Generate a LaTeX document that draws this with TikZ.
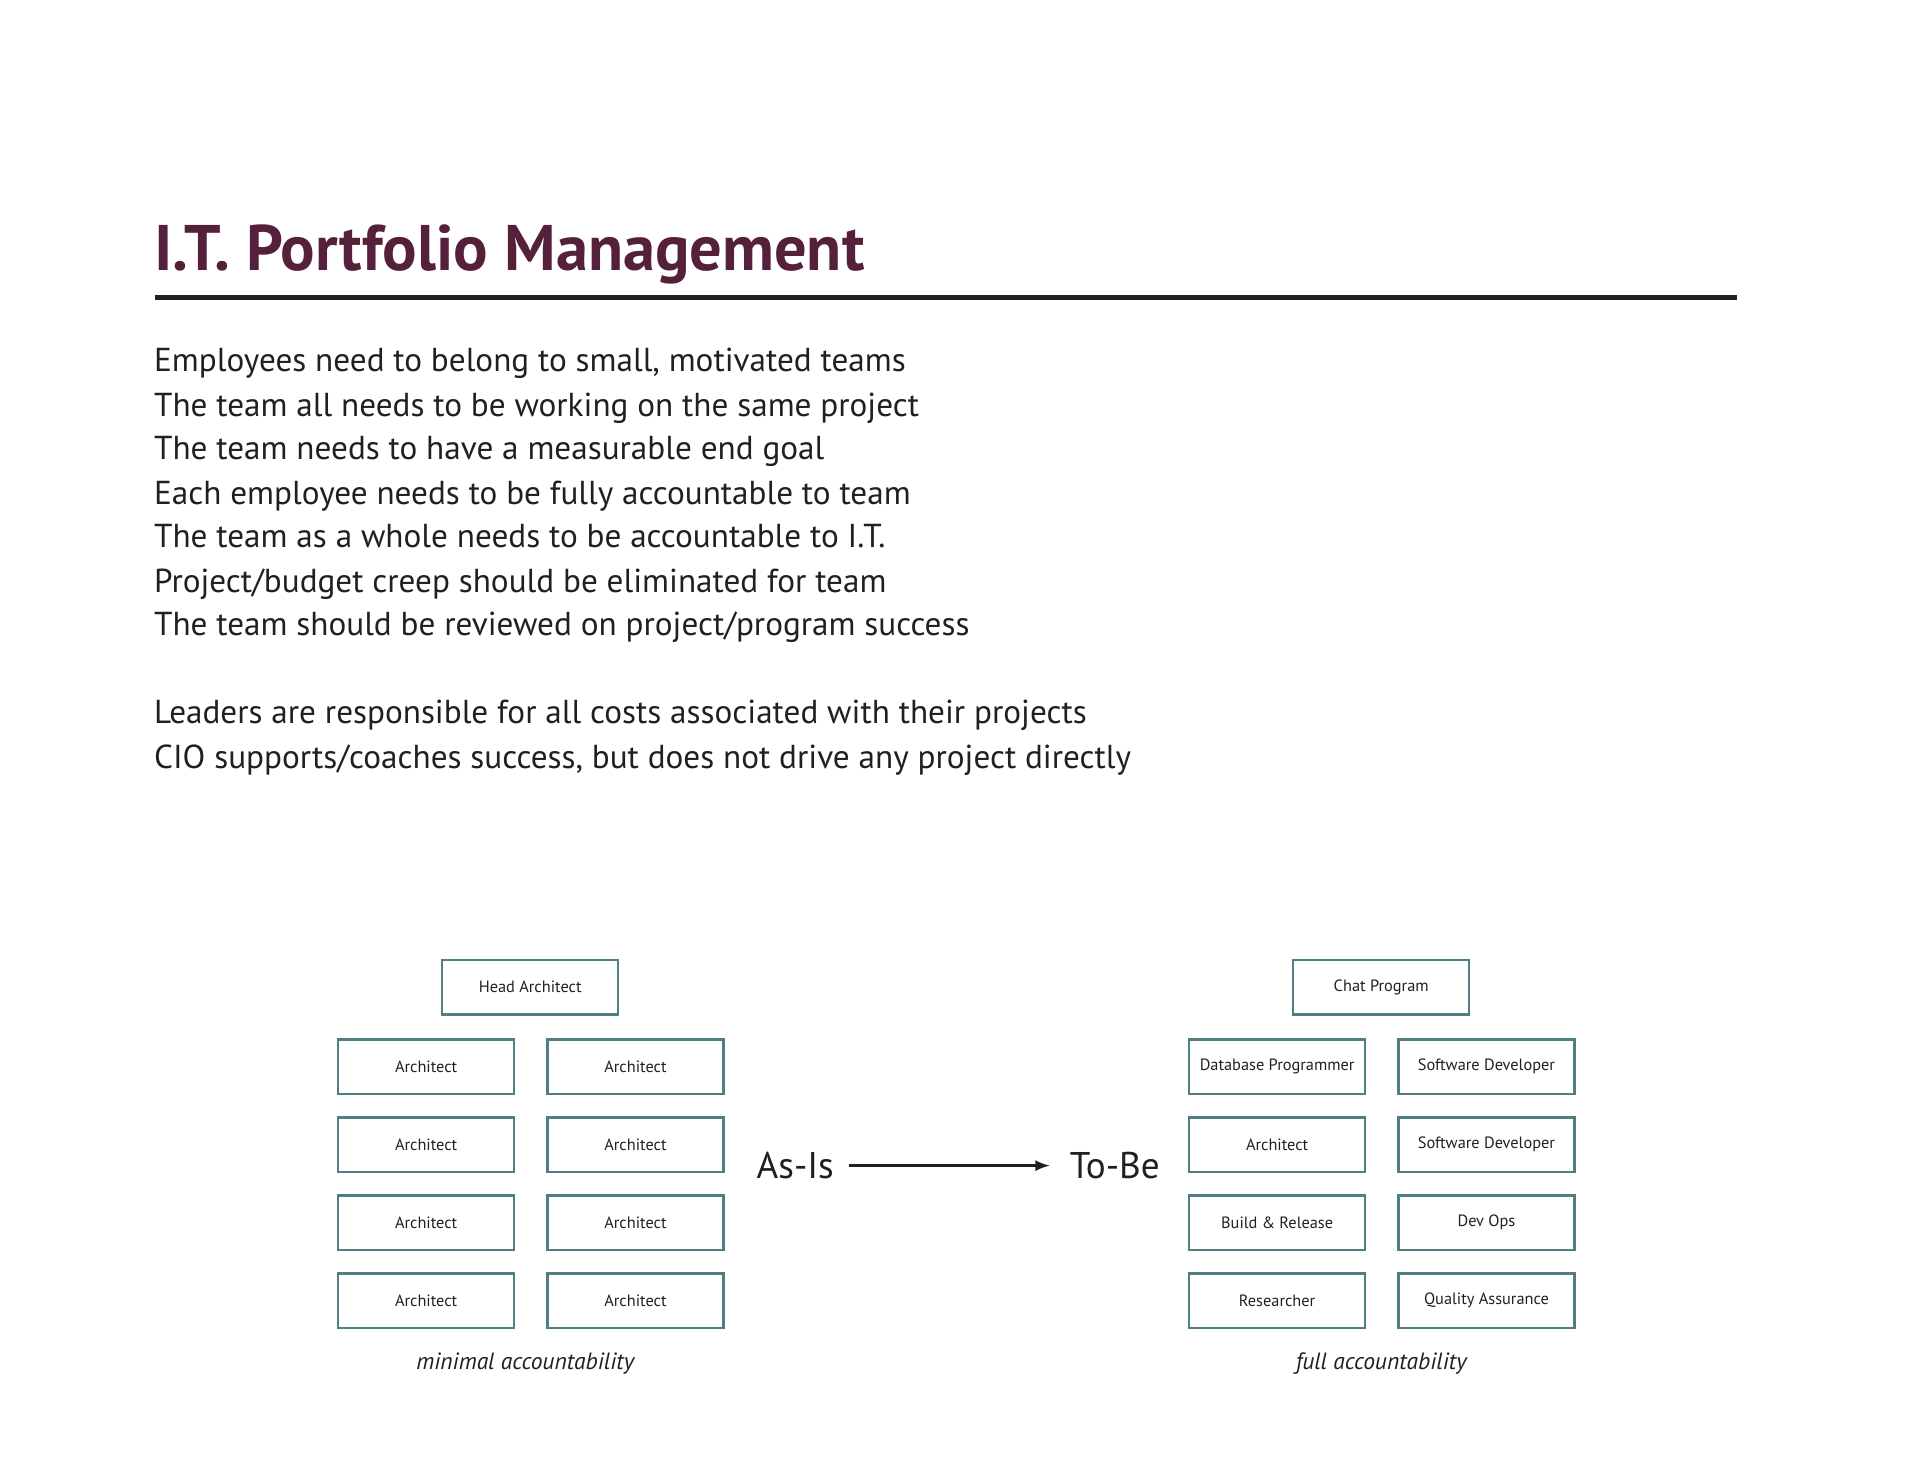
\documentclass[tikz,border=0pt]{standalone}
\usepackage{fontspec}
\setmainfont{PT Sans}
\definecolor{titlec}{HTML}{55213A}
\definecolor{boxc}{HTML}{4F7F80}
\definecolor{txt}{HTML}{231F20}
\begin{document}
\begin{tikzpicture}[x=0.5pt,y=-0.5pt,
  box/.style={draw=boxc,line width=1pt,minimum width=71pt,minimum height=22pt,inner sep=0pt,font=\fontsize{6.6}{8}\selectfont,text=txt},
  body/.style={anchor=base west,inner sep=0pt,font=\fontsize{13.4}{16}\selectfont,text=txt},
  captext/.style={inner sep=0pt,font=\fontsize{9.5}{11}\selectfont\itshape,text=txt}]
\useasboundingbox (0,0) rectangle (1550,1197);
\node[anchor=base west,inner sep=0pt,font=\fontsize{26}{30}\bfseries\selectfont,text=titlec] (title) at (124,218) {I.T. Portfolio Management};
\coordinate (r1) at (125,240); \coordinate (r2) at (1402,240);
\draw[line width=2pt,txt] (r1) -- (r2);
\node[body] (l1) at (124,300) {Employees need to belong to small, motivated teams};
\node[body] (l2) at (124,336) {The team all needs to be working on the same project};
\node[body] (l3) at (124,371) {The team needs to have a measurable end goal};
\node[body] (l4) at (124,407) {Each employee needs to be fully accountable to team};
\node[body] (l5) at (124,442) {The team as a whole needs to be accountable to I.T.};
\node[body] (l6) at (124,478) {Project/budget creep should be eliminated for team};
\node[body] (l7) at (124,513) {The team should be reviewed on project/program success};
\node[body] (l8) at (124,584) {Leaders are responsible for all costs associated with their projects};
\node[body] (l9) at (124,620) {CIO supports/coaches success, but does not drive any project directly};
% left
\node[box] (ha) at (428,797) {Head Architect};
\foreach \r/\y in {1/861,2/924,3/987,4/1050}{
  \node[box] (la\r) at (344,\y) {Architect};
  \node[box] (lb\r) at (513,\y) {Architect};
}
\node[captext] (c1) at (424,1101) {minimal accountability};
% right
\node[box] (cp) at (1115,797) {Chat Program};
\node[box] (ra1) at (1031,861) {Database Programmer};
\node[box] (rb1) at (1200,861) {Software Developer};
\node[box] (ra2) at (1031,924) {Architect};
\node[box] (rb2) at (1200,924) {Software Developer};
\node[box] (ra3) at (1031,987) {Build \& Release};
\node[box] (rb3) at (1200,987) {Dev Ops};
\node[box] (ra4) at (1031,1050) {Researcher};
\node[box] (rb4) at (1200,1050) {Quality Assurance};
\node[captext] (c2) at (1115,1101) {full accountability};
% arrow
\node[inner sep=0pt,font=\fontsize{15}{18}\selectfont,text=txt] (asis) at (642,941) {As-Is};
\node[inner sep=0pt,font=\fontsize{15}{18}\selectfont,text=txt] (tobe) at (900,941) {To-Be};
\draw[-latex,line width=1pt,txt,shorten <=6pt,shorten >=8pt] (asis.east) -- (tobe.west);
\end{tikzpicture}
\end{document}
